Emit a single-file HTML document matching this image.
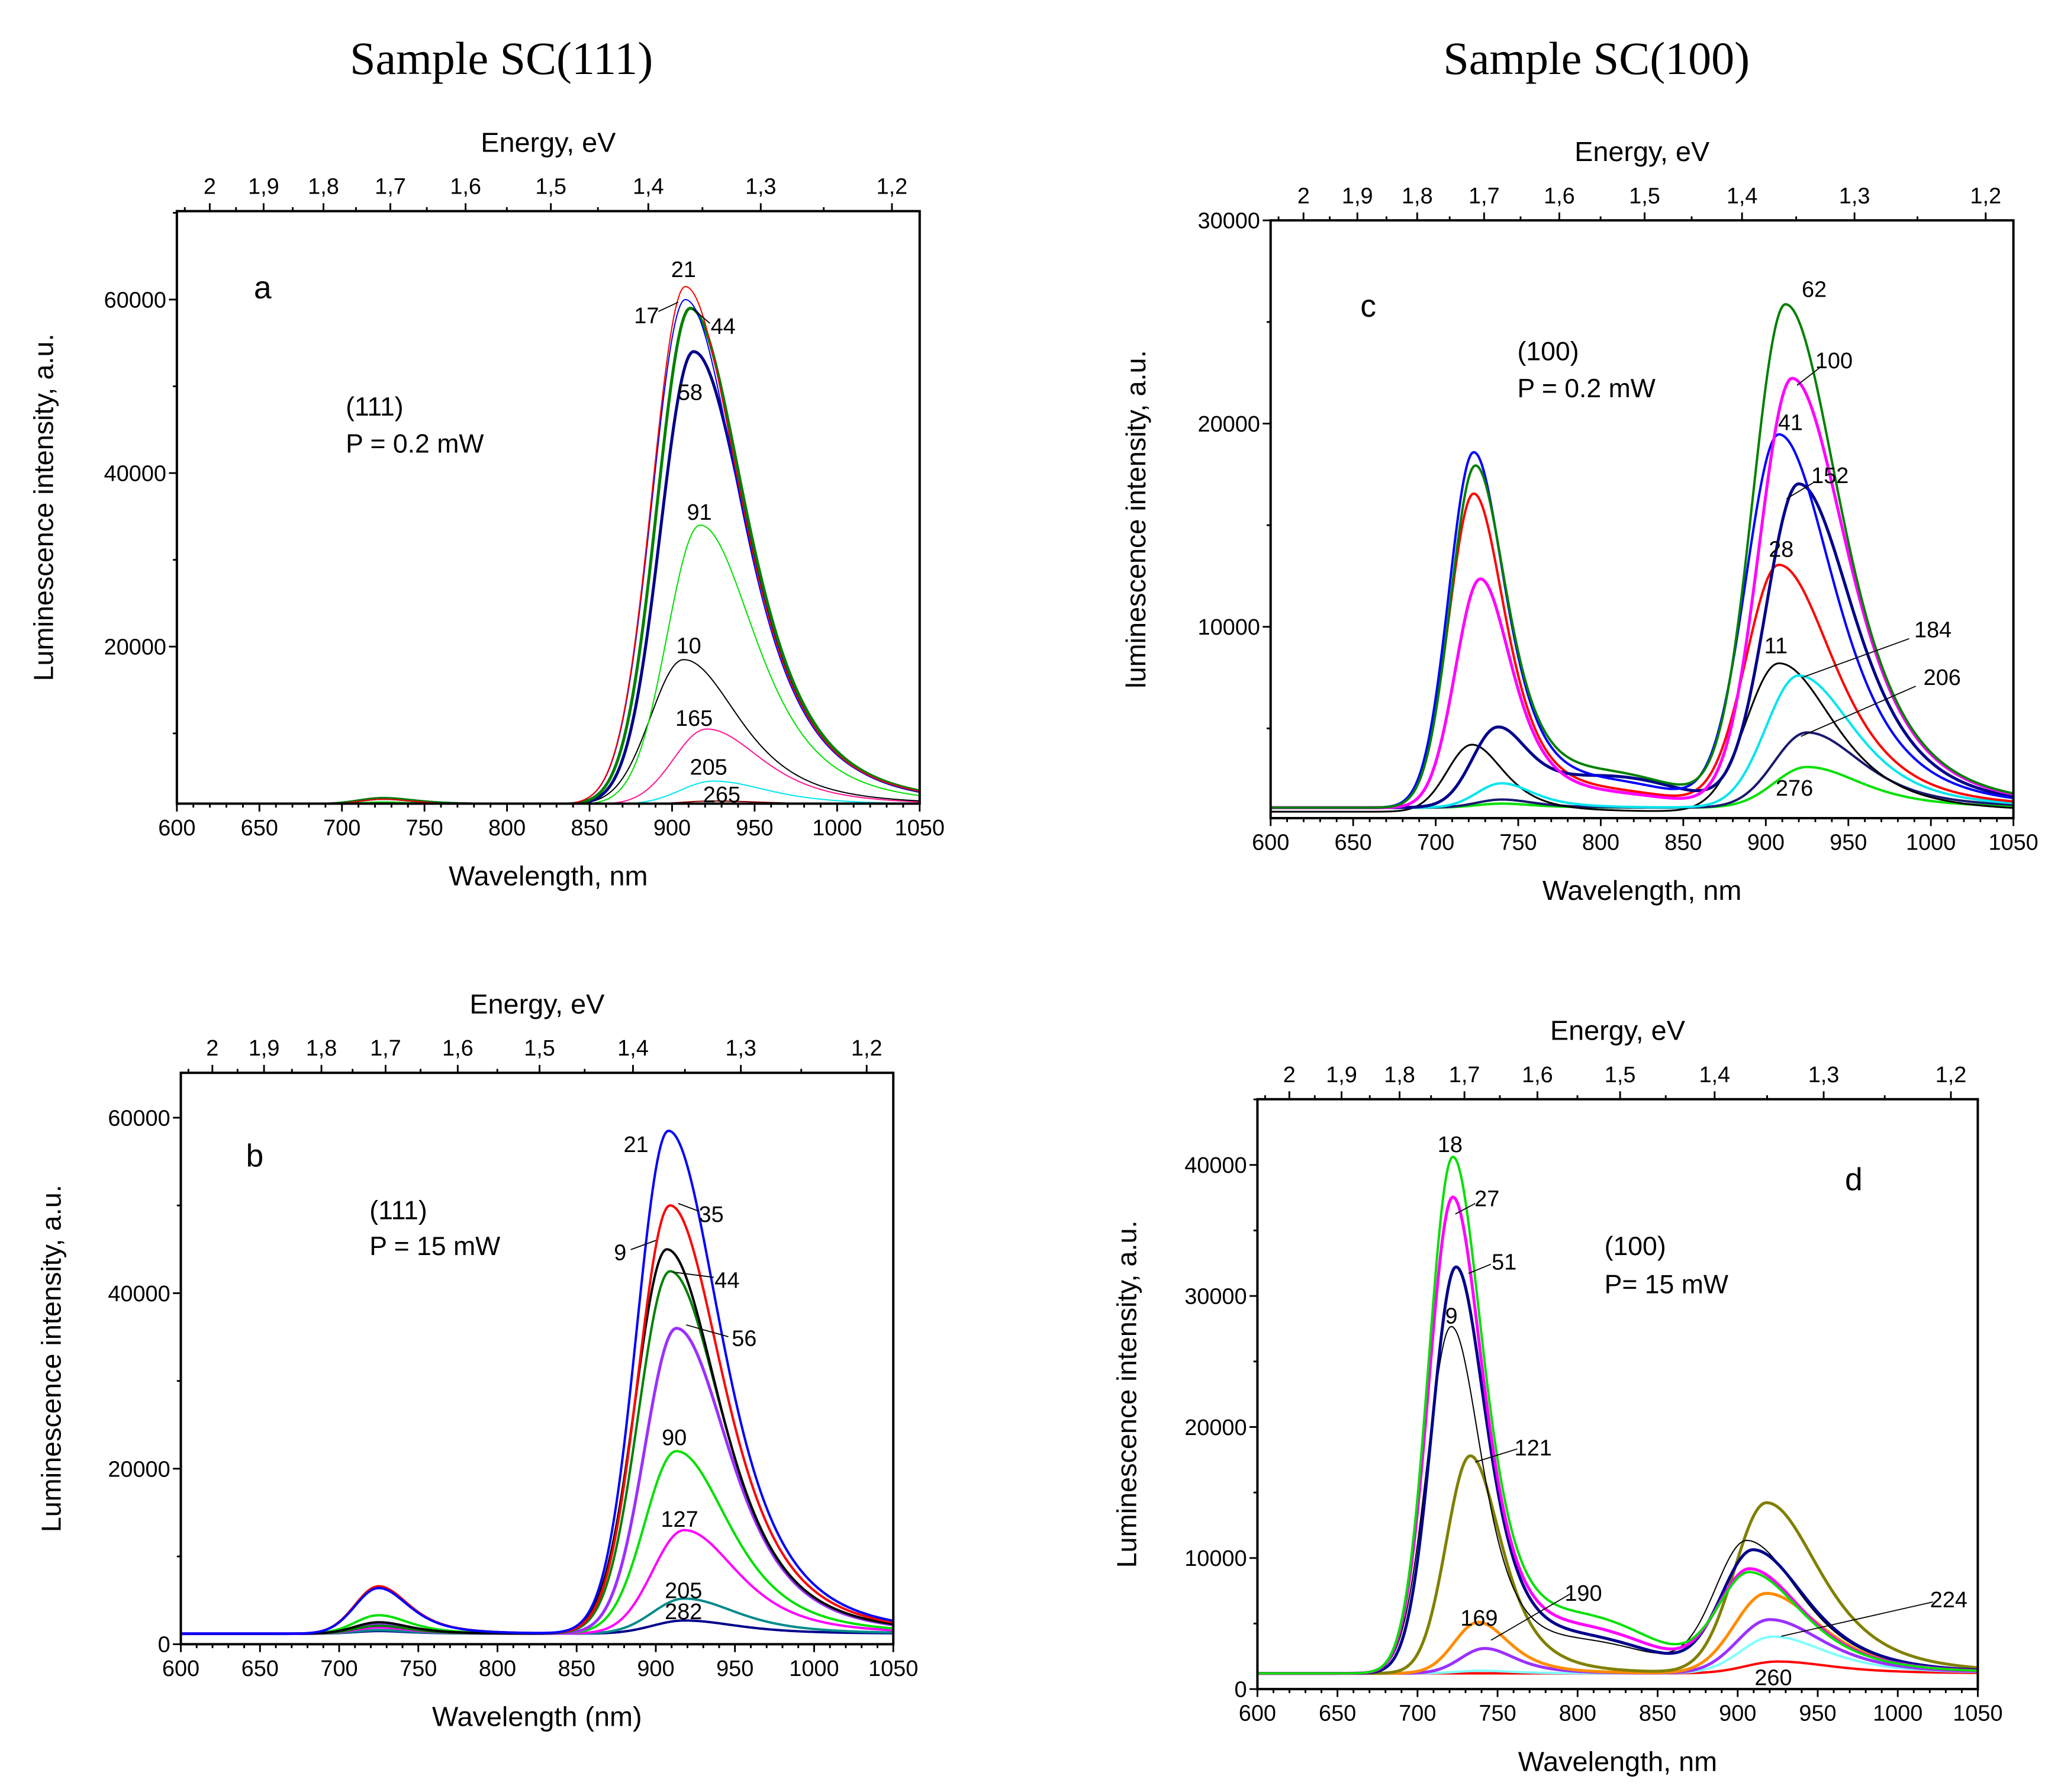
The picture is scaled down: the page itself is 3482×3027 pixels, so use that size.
<!DOCTYPE html>
<html><head><meta charset="utf-8"><style>
html,body{margin:0;padding:0;background:#fff}
svg{display:block}
text{font-family:"Liberation Sans",Arial,sans-serif;fill:#000}
.serif{font-family:"Liberation Serif","Times New Roman",serif}
</style></head><body>
<svg id="fig" xmlns="http://www.w3.org/2000/svg" width="3482" height="3027" viewBox="0 0 1562 1358">
<rect x="0" y="0" width="1562" height="1358" fill="#fff"/>
<text class="serif" x="380" y="56" font-size="35" text-anchor="middle">Sample SC(111)</text>
<text class="serif" x="1210" y="56" font-size="35" text-anchor="middle">Sample SC(100)</text>
</svg>
<script>
// ---------- data ----------
// Panel a
const aNames = ["265","205","165","10","91","58","44","17","21"];
const aColors = ["#8b0000","#00e5ee","#ff1493","#000000","#00e000","#00008b","#008000","#0000ff","#ff0000"];
const aWidths = [1,1,1,1,1,2.5,2.5,1,1];
const aBase = [1800,1800,1800,1800,1800,1800,1800,1800,1800];
const aP1 = [0,0,0,0,300,700,700,600,600];
const aP2 = [400,2700,8700,16700,32200,52200,57200,58200,59700];
const aP2C = [925,925,921,907,917,913,911,908,908];
// Panel b
const bNames = ["282","205","127","90","56","44","9","35","21"];
const bColors = ["#00008b","#008b8b","#ff00ff","#00e000","#9b30ff","#008000","#000000","#ff0000","#0000ff"];
const bWidths = [2,2,2,2,2.5,2,2,2,2];
const bBase = [1200,1200,1200,1200,1200,1200,1200,1200,1200];
const bP1 = [300,400,700,2100,1000,900,1300,5400,5200];
const bP2 = [1500,4000,11800,20800,34800,41300,43800,48800,57300];
const bP2C = [918,918,918,913,913,909,907,909,908];
// Panel c
const cNames = ["276","206","11","184","28","152","41","100","62"];
const cColors = ["#00e000","#191970","#000000","#00e5ee","#ff0000","#00008b","#0000ff","#ff00ff","#008000"];
const cWidths = [2,2,1.5,2,2,2.5,2,2.5,2];
const cBase = [1100,1100,900,1100,1100,1100,1100,1100,1100];
const cP1 = [200,400,3300,1200,15400,3700,17400,11200,16700];
const cP1C = [740,740,722,740,723,737,723,727,724];
const cP2 = [2000,3700,7300,6500,11900,15900,18300,21100,24700];
const cP2C = [925,925,908,920,908,920,908,916,912];
const cSh = [0,0,0,0,600,1400,1000,500,1400];
// Panel d
const dNames = ["260","224","190","169","121","9","51","27","18"];
const dColors = ["#ff0000","#7fffff","#9b30ff","#ff8c00","#808000","#000000","#00008b","#ff00ff","#00e000"];
const dWidths = [2,2,2.5,2.5,2.5,1,2.5,2.5,2];
const dBase = [1200,1200,1200,1200,1200,1200,1200,1200,1200];
const dP1 = [0,200,1900,3900,16600,26300,30800,36100,39100];
const dP1C = [740,740,742,738,733,721,724,722,722];
const dP2 = [900,2800,4100,6100,13000,10000,9300,7800,7500];
const dP2C = [925,922,920,918,918,906,910,908,908];
const dSh = [0,0,0,0,0,2000,2200,2800,3600];
const energyTicks = [2,1.9,1.8,1.7,1.6,1.5,1.4,1.3,1.2];
const energyLabels = ["2","1,9","1,8","1,7","1,6","1,5","1,4","1,3","1,2"];
const xTicks = [600,650,700,750,800,850,900,950,1000,1050];

// ---------- drawing ----------
const NS="http://www.w3.org/2000/svg";
const svg=document.getElementById('fig');
function el(tag,attrs,parent){const e=document.createElementNS(NS,tag);for(const k in attrs)e.setAttribute(k,attrs[k]);(parent||svg).appendChild(e);return e;}
function txt(s,x,y,size,anchor,parent,extra){const t=el('text',Object.assign({x:x,y:y,'font-size':size,'text-anchor':anchor||'middle'},extra||{}),parent);t.textContent=s;return t;}
function peak(x,A,c,sL,w){const d=x-c;if(d<0)return A*Math.exp(-d*d/(2*sL*sL));const r=1+(d/w)*(d/w);return A/(r*r);}

function panel(P){
  const g=el('g',{});
  
  
  const X=v=>P.x0+(v-600)/450*(P.x1-P.x0);
  const Y=v=>P.yz-v*P.ky;
  const cid='clip-'+P.id;
  const cp=el('clipPath',{id:cid},g);el('rect',{x:P.x0,y:P.y0,width:P.x1-P.x0,height:P.y1-P.y0},cp);
  const cg=el('g',{'clip-path':'url(#'+cid+')'},g);
  for(let i=0;i<P.names.length;i++){
    let d='';
    for(let w=600;w<=1050;w+=1){
      let v=P.base[i]+peak(w,P.p1[i],P.p1c?P.p1c[i]:725,15,36)+peak(w,P.p2[i],P.p2c[i],20,62)+(P.sh?P.sh[i]*Math.exp(-Math.pow((w-810)/40,2)/2):0);
      d+=(w===600?'M':'L')+X(w).toFixed(2)+','+Y(v).toFixed(2);
    }
    const p=el('path',{d:d,fill:'none',stroke:P.colors[i],'stroke-width':P.widths[i]*0.9,'stroke-linejoin':'round'},cg);
    
    
  }
  const fr=el('rect',{x:P.x0,y:P.y0,width:P.x1-P.x0,height:P.y1-P.y0,fill:'none',stroke:'#000','stroke-width':1.8},g);
  
  
  for(let w=600;w<=1050;w+=10){const maj=w%50===0;el('line',{x1:X(w),x2:X(w),y1:P.y1,y2:P.y1+(maj?6:3),stroke:'#000','stroke-width':1.3},g);}
  xTicks.forEach(w=>{const t=txt(String(w),X(w),P.y1+24,17,'middle',g);});
  const xt=txt(P.xtitle,(P.x0+P.x1)/2,P.y1+62,21,'middle',g);
  
  
  for(let e=2.05;e>=1.175;e-=0.05){const w=1239.84/e;if(w<600||w>1050)continue;const maj=Math.abs(Math.round(e*10)-e*10)<1e-6;el('line',{x1:X(w),x2:X(w),y1:P.y0,y2:P.y0-(maj?6:3),stroke:'#000','stroke-width':1.3},g);}
  energyTicks.forEach((e,i)=>{const t=txt(energyLabels[i],X(1239.84/e),P.y0-13,17,'middle',g);});
  const et=txt('Energy, eV',(P.x0+P.x1)/2,P.y0-45,21,'middle',g);
  
  
  for(let v=0;v<=P.ymax;v+=P.minor){const y=Y(v);if(y>P.y1+0.5||y<P.y0-0.5)continue;const maj=v%P.major===0;el('line',{x1:P.x0,x2:P.x0-(maj?6:3),y1:y,y2:y,stroke:'#000','stroke-width':1.3},g);
    if(maj&&(v>0||P.showZero)){const t=txt(String(v),P.x0-8,y+6,17,'end',g);}}
  const yt=txt(P.ytitle,0,0,21,'middle',g,{transform:'translate('+P.ytx+','+((P.y0+P.y1)/2)+') rotate(-90)'});
  
  
  P.labels.forEach(L=>{const t=txt(L[0],L[1],L[2],L[3]||17,L[4]||'middle',g);});
  P.leaders.forEach(l=>{el('line',{x1:l[0],y1:l[1],x2:l[2],y2:l[3],stroke:'#000','stroke-width':0.8},g);});
}

panel({id:'panel-a',x0:134,x1:697,y0:160,y1:609,yz:621.5,ky:131.5/20000,ymax:70000,major:20000,minor:10000,
  names:aNames,colors:aColors,widths:aWidths,base:aBase,p1:aP1,p2:aP2,p2c:aP2C,
  xtitle:'Wavelength, nm',ytitle:'Luminescence intensity, a.u.',ytx:40,
  labels:[['21',518,210],['17',490,245],['44',548,253],['58',523,303],['91',530,394],['10',522,495],['165',526,550],['205',537,587],['265',547,608],['a',199,226,24],['(111)',262,315,20,'start'],['P = 0.2 mW',262,343,20,'start']],
  leaders:[[499,236,514,229],[538,245,525,234]]});
panel({id:'panel-b',x0:137,x1:677,y0:813,y1:1246,yz:1246,ky:133/20000,ymax:65000,major:20000,minor:10000,showZero:true,
  names:bNames,colors:bColors,widths:bWidths,base:bBase,p1:bP1,p2:bP2,p2c:bP2C,
  xtitle:'Wavelength (nm)',ytitle:'Luminescence intensity, a.u.',ytx:46,
  labels:[['21',482,873],['35',539,926],['9',470,955],['44',551,976],['56',564,1020],['90',511,1095],['127',515,1157],['205',518,1211],['282',518,1227],['b',193,884,24],['(111)',280,924,20,'start'],['P = 15 mW',280,951,20,'start']],
  leaders:[[530,918,514,912],[478,947,497,940],[541,968,510,964],[552,1013,520,1004]]});
panel({id:'panel-c',x0:963,x1:1526,y0:167,y1:620,yz:629,ky:154/10000,ymax:30000,major:10000,minor:5000,
  names:cNames,colors:cColors,widths:cWidths,base:cBase,p1:cP1,p1c:cP1C,p2:cP2,p2c:cP2C,sh:cSh,
  xtitle:'Wavelength, nm',ytitle:'luminescence intensity, a.u.',ytx:868,
  labels:[['62',1375,225],['100',1390,279],['41',1357,326],['152',1387,366],['28',1350,422],['184',1465,483],['11',1346,495],['206',1472,519],['276',1360,603],['c',1037,240,24],['(100)',1150,273,20,'start'],['P = 0.2 mW',1150,301,20,'start']],
  leaders:[[1380,278,1362,292],[1374,366,1354,378],[1447,484,1367,513],[1452,520,1365,558]]});
panel({id:'panel-d',x0:953,x1:1499,y0:833,y1:1280,yz:1280,ky:99.3/10000,ymax:45000,major:10000,minor:5000,showZero:true,
  names:dNames,colors:dColors,widths:dWidths,base:dBase,p1:dP1,p1c:dP1C,p2:dP2,p2c:dP2C,sh:dSh,
  xtitle:'Wavelength, nm',ytitle:'Luminescence intensity, a.u.',ytx:861,
  labels:[['18',1099,873],['27',1127,914],['51',1140,962],['9',1100,1003],['121',1162,1103],['190',1200,1213],['169',1121,1232],['224',1477,1218],['260',1344,1277],['d',1405,902,24],['(100)',1216,951,20,'start'],['P= 15 mW',1216,980,20,'start']],
  leaders:[[1118,912,1103,920],[1130,958,1113,965],[1150,1098,1118,1108],[1190,1208,1130,1243],[1465,1214,1350,1240]]});
</script>
</body></html>
